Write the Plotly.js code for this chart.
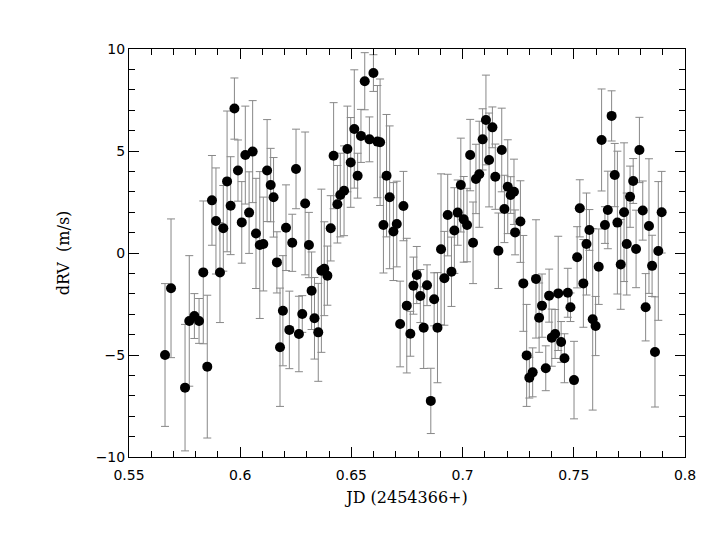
<!DOCTYPE html>
<html>
<head>
<meta charset="utf-8">
<script src="https://cdn.plot.ly/plotly-3.0.1.min.js"></script>
<style>
  html, body { margin: 0; padding: 0; background: #fff; }
  #chart { width: 706px; height: 546px; }
</style>
</head>
<body>
<div id="chart"></div>
<script>
// JD offsets (days after 2454366), RV residuals and their errors (m/s)
const jd = [
  0.5662, 0.5689, 0.5752, 0.5771, 0.5794, 0.5815, 0.5834, 0.5852, 0.5873, 0.5891,
  0.5909, 0.5924, 0.5941, 0.5957, 0.5974, 0.5990, 0.6007, 0.6023, 0.6040, 0.6056,
  0.6071, 0.6088, 0.6104, 0.6121, 0.6137, 0.6150, 0.6165, 0.6179, 0.6192, 0.6206,
  0.6221, 0.6234, 0.6251, 0.6264, 0.6279, 0.6292, 0.6309, 0.6321, 0.6334, 0.6351,
  0.6365, 0.6378, 0.6392, 0.6407, 0.6420, 0.6437, 0.6450, 0.6467, 0.6482, 0.6497,
  0.6513, 0.6528, 0.6543, 0.6560, 0.6581, 0.6599, 0.6617, 0.6629, 0.6644, 0.6658,
  0.6672, 0.6689, 0.6704, 0.6719, 0.6734, 0.6749, 0.6765, 0.6779, 0.6794, 0.6810,
  0.6825, 0.6840, 0.6857, 0.6872, 0.6887, 0.6903, 0.6918, 0.6933, 0.6950, 0.6963,
  0.6978, 0.6992, 0.7005, 0.7020, 0.7034, 0.7047, 0.7060, 0.7075, 0.7090, 0.7105,
  0.7119, 0.7134, 0.7147, 0.7161, 0.7176, 0.7188, 0.7203, 0.7216, 0.7231, 0.7236,
  0.7260, 0.7273, 0.7288, 0.7300, 0.7315, 0.7330, 0.7344, 0.7357, 0.7374, 0.7389,
  0.7401, 0.7416, 0.7430, 0.7443, 0.7458, 0.7473, 0.7485, 0.7501, 0.7515, 0.7527,
  0.7543, 0.7557, 0.7570, 0.7585, 0.7598, 0.7612, 0.7625, 0.7640, 0.7653, 0.7670,
  0.7684, 0.7696, 0.7711, 0.7726, 0.7738, 0.7753, 0.7767, 0.7780, 0.7795, 0.7810,
  0.7823, 0.7838, 0.7852, 0.7865, 0.7880, 0.7895
];
const drv = [
  -5.00, -1.73, -6.60, -3.33, -3.09, -3.33, -0.95, -5.57, 2.58, 1.57,
  -0.96, 1.21, 3.51, 2.32, 7.08, 4.04, 1.50, 4.80, 1.98, 4.97,
  0.96, 0.39, 0.44, 4.04, 3.33, 2.73, -0.46, -4.62, -2.83, 1.24,
  -3.77, 0.50, 4.12, -3.97, -2.99, 2.43, 0.39, -1.85, -3.20, -3.89,
  -0.87, -0.77, -1.11, 1.21, 4.77, 2.39, 2.84, 3.05, 5.10, 4.44,
  6.08, 3.79, 5.74, 8.42, 5.57, 8.82, 5.46, 5.43, 1.37, 3.79,
  2.73, 1.05, 1.42, -3.48, 2.30, -2.58, -3.96, -1.60, -1.08, -2.11,
  -3.66, -1.58, -7.25, -2.27, -3.66, 0.18, -1.24, 1.86, -0.92, 1.10,
  1.98, 3.33, 1.65, 1.37, 4.80, 0.50, 3.63, 3.86, 5.57, 6.52,
  4.56, 6.16, 3.74, 0.11, 5.05, 2.16, 3.25, 2.84, 3.00, 1.01,
  1.54, -1.49, -5.02, -6.11, -5.85, -1.27, -3.17, -2.58, -5.65, -2.09,
  -4.15, -3.97, -1.98, -4.36, -5.16, -1.95, -2.66, -6.23, -0.21, 2.19,
  -1.49, 0.44, 1.13, -3.25, -3.58, -0.67, 5.54, 1.37, 2.11, 6.72,
  3.82, 1.49, -0.56, 2.00, 0.44, 2.76, 3.53, 0.20, 5.05, 2.08,
  -2.66, 1.32, -0.63, -4.85, 0.10, 2.00
];
const drvErr = [
  3.5, 3.4, 3.1, 3.2, 1.1, 1.1, 3.5, 3.5, 2.2, 2.6,
  2.45, 2.1, 3.45, 2.4, 1.5, 1.5, 2.0, 2.4, 2.0, 2.5,
  2.7, 3.6, 2.3, 2.5, 1.8, 1.95, 1.5, 2.9, 2.7, 2.1,
  1.9, 1.4, 1.95, 1.85, 0.9, 3.5, 1.6, 1.9, 2.0, 2.4,
  4.0, 2.3, 1.45, 1.6, 2.6, 1.9, 2.05, 2.2, 2.1, 2.2,
  2.9, 1.1, 1.3, 1.4, 1.1, 0.9, 2.75, 3.1, 2.35, 3.0,
  3.5, 2.4, 2.1, 2.1, 1.7, 3.3, 1.1, 1.4, 1.4, 1.3,
  2.0, 1.0, 1.6, 1.3, 2.7, 3.7, 2.3, 2.0, 1.7, 2.1,
  1.6, 2.3, 2.1, 1.8, 1.75, 2.0, 1.7, 2.6, 1.5, 2.2,
  2.3, 1.0, 1.6, 1.85, 2.05, 1.65, 2.3, 0.9, 1.6, 1.1,
  2.0, 2.35, 2.5, 1.0, 1.2, 2.9, 1.7, 1.55, 1.1, 1.3,
  1.4, 1.2, 2.8, 1.0, 1.2, 1.2, 0.7, 1.9, 1.5, 1.4,
  2.15, 2.5, 1.0, 4.45, 1.45, 1.85, 2.5, 0.9, 1.9, 1.23,
  1.55, 3.5, 2.2, 3.4, 2.5, 1.5, 1.1, 1.9, 1.6, 1.45,
  1.65, 3.3, 1.5, 2.7, 3.4, 2.0
];

const tickFont = { family: 'DejaVu Sans, sans-serif', size: 14, color: '#000' };
const titleFont = { family: 'DejaVu Serif, serif', size: 16, color: '#000' };

const trace = {
  x: jd,
  y: drv,
  type: 'scatter',
  mode: 'markers',
  marker: { color: '#000', size: 10 },
  error_y: {
    type: 'data',
    array: drvErr,
    visible: true,
    color: '#888',
    thickness: 1,
    width: 4
  },
  hoverinfo: 'x+y'
};

const layout = {
  width: 706,
  height: 546,
  margin: { l: 129, r: 21, t: 49, b: 89 },
  paper_bgcolor: '#fff',
  plot_bgcolor: '#fff',
  showlegend: false,
  xaxis: {
    range: [0.55, 0.8],
    dtick: 0.05,
    tick0: 0.55,
    ticks: 'inside',
    ticklen: 10,
    tickcolor: '#000',
    ticklabelstandoff: 5,
    minor: { dtick: 0.01, ticks: 'inside', ticklen: 6, tickcolor: '#000' },
    showline: true,
    linecolor: '#000',
    linewidth: 1,
    mirror: 'ticks',
    showgrid: false,
    zeroline: false,
    tickfont: tickFont,
    title: { text: 'JD (2454366+)', font: titleFont, standoff: 10 }
  },
  yaxis: {
    range: [-10, 10],
    dtick: 5,
    ticks: 'inside',
    ticklen: 10,
    tickcolor: '#000',
    minor: { dtick: 1, ticks: 'inside', ticklen: 6, tickcolor: '#000' },
    showline: true,
    linecolor: '#000',
    linewidth: 1,
    mirror: 'ticks',
    showgrid: false,
    zeroline: false,
    tickfont: tickFont,
    title: { text: 'dRV  (m/s)', font: titleFont, standoff: 22 }
  }
};

Plotly.newPlot('chart', [trace], layout, { displayModeBar: false, staticPlot: true });
</script>
</body>
</html>
